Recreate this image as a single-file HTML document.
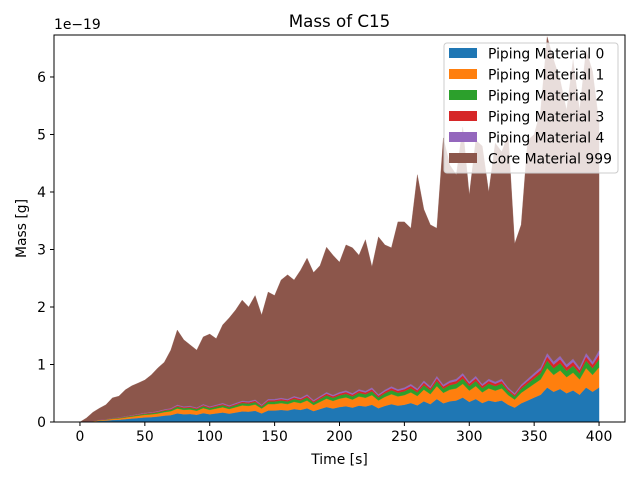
<!DOCTYPE html>
<html><head><meta charset="utf-8"><style>
body{margin:0;background:#fff}
svg text{font-family:"DejaVu Sans","Liberation Sans",sans-serif;fill:#000}
</style></head><body>
<svg id="chart" width="640" height="480">
<rect width="640" height="480" fill="#fff"/>
<g id="plot"></g>
<g id="axes"></g>
</svg>
<script>
const times=[];for(let t=0;t<=400;t+=5)times.push(t);
const seriesNames=["Piping Material 0","Piping Material 1","Piping Material 2","Piping Material 3","Piping Material 4","Core Material 999"];
const xTicks=[0,50,100,150,200,250,300,350,400];
const yTicks=[0,1,2,3,4,5,6];
const m0=[0,.005,.01,.02,.025,.035,.04,.05,.06,.07,
.08,.085,.095,.11,.12,.15,.135,.14,.125,.155,
.135,.15,.165,.145,.165,.185,.18,.195,.15,.2,
.2,.21,.2,.225,.21,.24,.19,.225,.26,.235,
.26,.275,.25,.285,.27,.3,.24,.28,.31,.285,
.3,.33,.29,.36,.31,.4,.325,.36,.375,.425,
.35,.4,.33,.375,.35,.375,.3,.25,.325,.375,
.425,.475,.6,.525,.575,.5,.55,.475,.6,.525,.6];
const m1=[0,.003,.006,.011,.014,.02,.022,.028,.034,.039,
.045,.048,.053,.062,.067,.084,.076,.078,.07,.087,
.076,.084,.092,.081,.092,.104,.1,.109,.084,.112,
.112,.118,.112,.126,.118,.134,.106,.126,.146,.132,
.146,.154,.14,.16,.151,.168,.134,.157,.174,.16,
.168,.185,.162,.202,.174,.224,.182,.202,.21,.238,
.196,.224,.185,.21,.196,.21,.168,.14,.182,.21,
.238,.266,.336,.294,.322,.28,.308,.266,.336,.294,.35];
const m2=[0,.001,.002,.004,.005,.008,.009,.011,.013,.015,
.018,.019,.021,.024,.026,.033,.03,.031,.028,.034,
.03,.033,.036,.032,.036,.041,.04,.043,.033,.044,
.044,.046,.044,.05,.046,.053,.042,.05,.057,.052,
.057,.06,.055,.063,.059,.066,.053,.062,.068,.063,
.066,.073,.064,.079,.068,.088,.072,.079,.083,.094,
.077,.088,.073,.083,.077,.083,.066,.055,.072,.083,
.094,.105,.132,.116,.127,.11,.121,.105,.132,.116,.14];
const m3=[0,.001,.001,.003,.003,.004,.005,.006,.007,.008,
.01,.01,.011,.013,.014,.018,.016,.017,.015,.019,
.016,.018,.02,.017,.02,.022,.022,.023,.018,.024,
.024,.025,.024,.027,.025,.029,.023,.027,.031,.028,
.031,.033,.03,.034,.032,.036,.029,.034,.037,.034,
.036,.04,.035,.043,.037,.048,.039,.043,.045,.051,
.042,.048,.04,.045,.042,.045,.036,.03,.039,.045,
.051,.057,.072,.063,.069,.06,.066,.057,.072,.063,.08];
const m4=[0,0,.001,.002,.003,.003,.004,.005,.006,.007,
.007,.008,.01,.011,.013,.015,.013,.014,.012,.015,
.013,.015,.017,.015,.017,.018,.018,.02,.015,.02,
.02,.021,.02,.022,.021,.024,.019,.022,.026,.023,
.026,.028,.025,.028,.028,.03,.024,.027,.031,.028,
.03,.032,.029,.036,.031,.04,.032,.036,.037,.042,
.035,.04,.032,.037,.035,.037,.03,.025,.032,.037,
.042,.047,.06,.052,.057,.05,.055,.047,.06,.052,.08];
const core=[0,.06,.15,.2,.25,.35,.37,.46,.51,.54,
.57,.65,.75,.82,1.01,1.3,1.16,1.06,1.0,1.17,
1.26,1.15,1.36,1.52,1.62,1.75,1.64,1.81,1.56,1.86,
1.8,2.05,2.16,2.02,2.22,2.37,2.22,2.27,2.52,2.43,
2.26,2.53,2.53,2.33,2.63,2.1,2.74,2.52,2.41,2.91,
2.88,2.71,3.72,2.98,2.81,2.57,4.29,3.75,3.55,4.28,
3.25,4.1,4.14,3.25,4.15,3.95,4.4,2.6,2.78,4.15,
4.15,4.47,5.5,5.25,4.8,4.42,5.2,4.47,5.27,5.05,3.95];
const colors=["#1f77b4","#ff7f0e","#2ca02c","#d62728","#9467bd","#8c564b"];
const L=54,R=625,T=35,B=422,xmin=-20,xmax=420,ymax=6.73;
const X=v=>L+(v-xmin)/(xmax-xmin)*(R-L);
const Y=v=>B-v/ymax*(B-T);
const NS="http://www.w3.org/2000/svg";
function mk(tag,attrs,parent){const e=document.createElementNS(NS,tag);for(const k in attrs)e.setAttribute(k,attrs[k]);parent.appendChild(e);return e;}
const plot=document.getElementById('plot'),axes=document.getElementById('axes');
const series=[m0,m1,m2,m3,m4,core];
let base=times.map(()=>0);
series.forEach((s,si)=>{
  const top=base.map((b,i)=>b+s[i]);
  let d="M"+times.map((t,i)=>X(t).toFixed(2)+","+Y(top[i]).toFixed(2)).join("L");
  for(let i=times.length-1;i>=0;i--)d+="L"+X(times[i]).toFixed(2)+","+Y(base[i]).toFixed(2);
  const p=mk('path',{d:d+"Z",fill:colors[si],stroke:colors[si],'stroke-width':0.3},plot);
  
  
  base=top;
});
const frame=mk('rect',{x:L,y:T,width:R-L,height:B-T,fill:'none',stroke:'#000','stroke-width':1},axes);


xTicks.forEach(v=>{
  const g=mk('g',{},axes);
  
  
  mk('line',{x1:X(v),x2:X(v),y1:B,y2:B+4,stroke:'#000'},g);
  const t=mk('text',{x:X(v),y:B+19,'text-anchor':'middle','font-size':13.9},g);t.textContent=v;
});
yTicks.forEach(v=>{
  const g=mk('g',{},axes);
  
  
  mk('line',{x1:L-4,x2:L,y1:Y(v),y2:Y(v),stroke:'#000'},g);
  const t=mk('text',{x:L-8,y:Y(v)+5,'text-anchor':'end','font-size':13.9},g);t.textContent=v;
});
function txt(s,a,name){const t=mk('text',a,axes);t.textContent=s;return t;}
txt("1e\u221219",{x:L,y:T-6,'font-size':13.9},'y-offset-label');
txt("Mass of C15",{x:(L+R)/2,y:T-8,'text-anchor':'middle','font-size':16.7},'chart-title');
txt("Time [s]",{x:(L+R)/2,y:B+42,'text-anchor':'middle','font-size':13.9},'x-axis-title');
txt("Mass [g]",{x:26,y:(T+B)/2,'text-anchor':'middle','font-size':13.9,transform:`rotate(-90 26 ${(T+B)/2})`},'y-axis-title');
const lg=mk('g',{},axes);


mk('rect',{x:444,y:43,width:174,height:130,rx:3,fill:'#fff','fill-opacity':0.8,stroke:'#ccc'},lg);
seriesNames.forEach((n,i)=>{
  const e=mk('g',{},lg);
  
  
  const y=48+i*21;
  mk('rect',{x:449,y:y,width:28,height:10,fill:colors[i]},e);
  const t=mk('text',{x:488,y:y+10.5,'font-size':13.9},e);t.textContent=n;
});
</script>
</body></html>
